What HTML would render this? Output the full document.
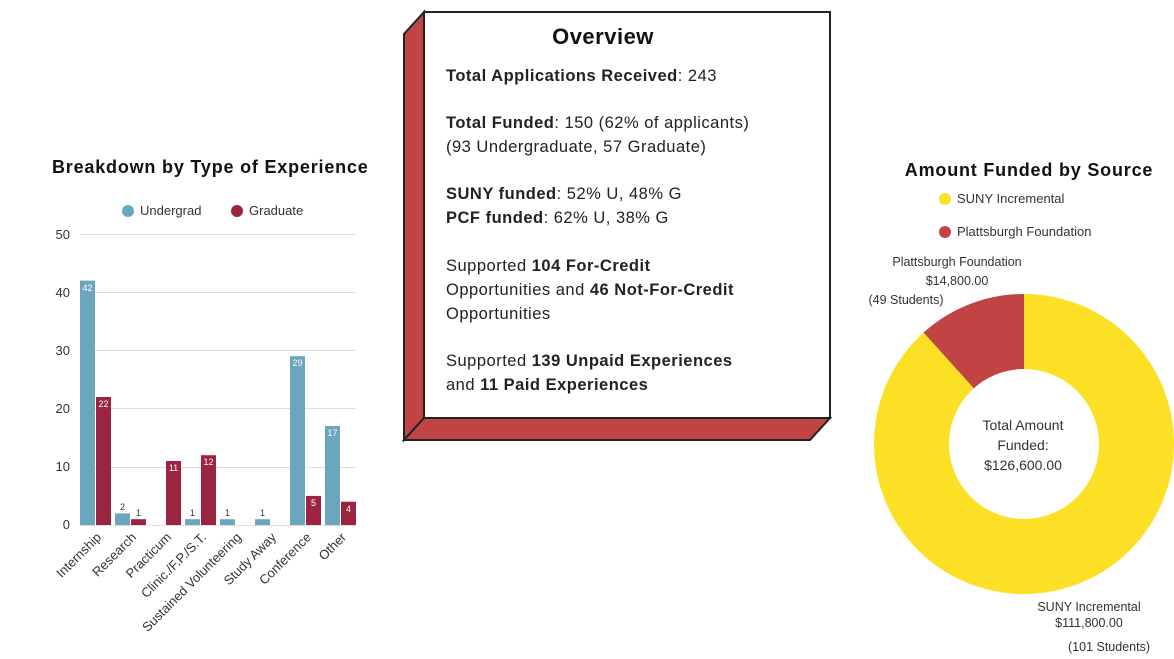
<!DOCTYPE html>
<html><head><meta charset="utf-8"><style>
html,body{margin:0;padding:0;background:#fff;}
svg{display:block;font-family:"Liberation Sans",sans-serif;}
</style></head><body>
<svg width="1174" height="659" viewBox="0 0 1174 659" xmlns="http://www.w3.org/2000/svg">
<!-- Bar chart -->
<text x="52" y="173" font-size="18" font-weight="bold" fill="#111" letter-spacing="0.8">Breakdown by Type of Experience</text>
<circle cx="128" cy="211" r="6" fill="#6aa6bd"/><text x="140" y="215" font-size="13" fill="#333">Undergrad</text>
<circle cx="237" cy="211" r="6" fill="#9b2540"/><text x="249" y="215" font-size="13" fill="#333">Graduate</text>
<g font-size="13" fill="#333" text-anchor="end">
<text x="70" y="239">50</text><text x="70" y="297">40</text><text x="70" y="355">30</text><text x="70" y="413">20</text><text x="70" y="471">10</text><text x="70" y="529">0</text>
</g>
<g stroke="#ddd" stroke-width="1">
<line x1="80" y1="234.5" x2="356" y2="234.5"/><line x1="80" y1="292.5" x2="356" y2="292.5"/><line x1="80" y1="350.5" x2="356" y2="350.5"/><line x1="80" y1="408.5" x2="356" y2="408.5"/><line x1="80" y1="467.5" x2="356" y2="467.5"/><line x1="80" y1="525.5" x2="356" y2="525.5"/>
</g>
<g fill="#6aa6bd">
<rect x="80" y="280.6" width="15" height="244.4"/>
<rect x="115" y="513.4" width="15" height="11.6"/>
<rect x="185" y="519.2" width="15" height="5.8"/>
<rect x="220" y="519.2" width="15" height="5.8"/>
<rect x="255" y="519.2" width="15" height="5.8"/>
<rect x="290" y="356.2" width="15" height="168.8"/>
<rect x="325" y="426" width="15" height="99"/>
</g>
<g fill="#9b2540">
<rect x="96" y="397" width="15" height="128"/>
<rect x="131" y="519.2" width="15" height="5.8"/>
<rect x="166" y="461" width="15" height="64"/>
<rect x="201" y="455.2" width="15" height="69.8"/>
<rect x="306" y="495.9" width="15" height="29.1"/>
<rect x="341" y="501.7" width="15" height="23.3"/>
</g>
<g font-size="9" fill="#fff" text-anchor="middle">
<text x="87.5" y="291">42</text><text x="103.5" y="407">22</text><text x="173.5" y="471">11</text><text x="208.5" y="465">12</text><text x="297.5" y="366">29</text><text x="313.5" y="506">5</text><text x="332.5" y="436">17</text><text x="348.5" y="512">4</text>
</g>
<g font-size="9" fill="#333" text-anchor="middle">
<text x="122.5" y="510">2</text><text x="138.5" y="516">1</text><text x="192.5" y="516">1</text><text x="227.5" y="516">1</text><text x="262.5" y="516">1</text>
</g>
<g font-size="13" fill="#333" text-anchor="end">
<text transform="translate(102,538) rotate(-45)">Internship</text>
<text transform="translate(137,538) rotate(-45)">Research</text>
<text transform="translate(172,538) rotate(-45)">Practicum</text>
<text transform="translate(207,538) rotate(-45)">Clinic./F.P./S.T.</text>
<text transform="translate(242,538) rotate(-45)">Sustained Volunteering</text>
<text transform="translate(277,538) rotate(-45)">Study Away</text>
<text transform="translate(312,538) rotate(-45)">Conference</text>
<text transform="translate(347,538) rotate(-45)">Other</text>
</g>
<!-- Overview box -->
<polygon points="424,12 404,34 404,440 424,418" fill="#c04444" stroke="#222" stroke-width="2"/>
<polygon points="404,440 810,440 830,418 424,418" fill="#c04444" stroke="#222" stroke-width="2"/>
<rect x="424" y="12" width="406" height="406" fill="#fff" stroke="#222" stroke-width="2"/>
<text x="603" y="44" font-size="22" font-weight="bold" fill="#111" text-anchor="middle" letter-spacing="0.5">Overview</text>
<g font-size="16.5" fill="#222" letter-spacing="0.5">
<text x="446" y="81"><tspan font-weight="bold">Total Applications Received</tspan>:  243</text>
<text x="446" y="128"><tspan font-weight="bold">Total Funded</tspan>:  150 (62% of applicants)</text>
<text x="446" y="152">(93 Undergraduate, 57 Graduate)</text>
<text x="446" y="199"><tspan font-weight="bold">SUNY funded</tspan>: 52% U, 48% G</text>
<text x="446" y="223"><tspan font-weight="bold">PCF funded</tspan>: 62% U, 38% G</text>
<text x="446" y="271">Supported <tspan font-weight="bold">104 For-Credit</tspan></text>
<text x="446" y="295">Opportunities and <tspan font-weight="bold">46 Not-For-Credit</tspan></text>
<text x="446" y="319">Opportunities</text>
<text x="446" y="366">Supported <tspan font-weight="bold">139 Unpaid Experiences</tspan></text>
<text x="446" y="390">and <tspan font-weight="bold">11 Paid Experiences</tspan></text>
</g>
<!-- Donut -->
<text x="1029" y="176" font-size="18" font-weight="bold" fill="#111" text-anchor="middle" letter-spacing="0.8">Amount Funded by Source</text>
<circle cx="945" cy="199" r="6" fill="#fbe025"/><text x="957" y="203" font-size="13" fill="#333">SUNY Incremental</text>
<circle cx="945" cy="232" r="6" fill="#c04444"/><text x="957" y="236" font-size="13" fill="#333">Plattsburgh Foundation</text>
<text x="957" y="266" font-size="12.5" fill="#333" text-anchor="middle">Plattsburgh Foundation</text>
<text x="957" y="285" font-size="12.5" fill="#333" text-anchor="middle">$14,800.00</text>
<text x="906" y="304" font-size="12.5" fill="#333" text-anchor="middle">(49 Students)</text>
<circle cx="1024" cy="444" r="150" fill="#fbe025"/>
<path d="M1024,444 L1024,294 A150,150 0 0 0 923.6,332.5 Z" fill="#c04444"/>
<circle cx="1024" cy="444" r="75" fill="#fff"/>
<g font-size="14" fill="#333" text-anchor="middle">
<text x="1023" y="430">Total Amount</text>
<text x="1023" y="450">Funded:</text>
<text x="1023" y="470">$126,600.00</text>
</g>
<text x="1089" y="611" font-size="12.5" fill="#333" text-anchor="middle">SUNY Incremental</text>
<text x="1089" y="627" font-size="12.5" fill="#333" text-anchor="middle">$111,800.00</text>
<text x="1109" y="651" font-size="12.5" fill="#333" text-anchor="middle">(101 Students)</text>
</svg>
</body></html>
